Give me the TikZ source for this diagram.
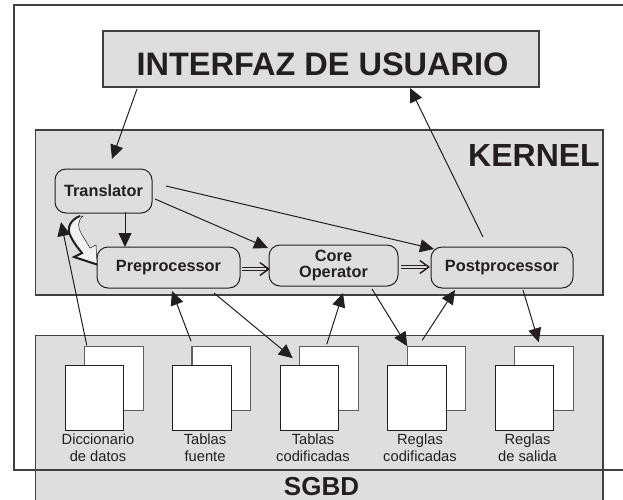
\documentclass[tikz,border=0pt]{standalone}
\usepackage{fontspec}
\setmainfont{Liberation Sans}
\usetikzlibrary{arrows.meta,calc}
\definecolor{panelgray}{HTML}{DEDEDE}
\definecolor{inkdark}{HTML}{231F20}
\definecolor{edgegray}{HTML}{404040}
\definecolor{backedge}{HTML}{5E5E5E}
\tikzset{
  x=1pt,y=-1pt,
  panel/.style={draw=edgegray,fill=panelgray,line width=1.2pt,inner sep=0pt,outer sep=0pt},
  procbox/.style={draw=inkdark,fill=panelgray,line width=1pt,rounded corners=11pt,inner sep=0pt,outer sep=0pt,
     font=\fontsize{16.3}{17}\selectfont\bfseries,align=center,text=inkdark},
  backdoc/.style={draw=backedge,fill=white,line width=1.2pt,minimum width=58.5pt,minimum height=64.5pt,inner sep=0pt,outer sep=0pt},
  frontdoc/.style={draw=inkdark,fill=white,line width=1pt,minimum width=58.5pt,minimum height=64.5pt,inner sep=0pt,outer sep=0pt},
  doclabel/.style={font=\fontsize{14.7}{17}\selectfont,align=center,text=inkdark,inner sep=0pt},
  bigtitle/.style={font=\bfseries,text=inkdark,inner sep=0pt},
  flow/.style={draw=inkdark,line width=1pt,-{Triangle[length=14pt,width=13pt]}},
  dshaft/.style={draw=inkdark,line width=1.2pt,double=panelgray,double distance=2.2pt},
  dhead/.style={draw=inkdark,line width=1.4pt,-{Straight Barb[length=9pt,width=13pt,line width=1.4pt]}},
}
\begin{document}
\begin{tikzpicture}
\useasboundingbox (0,0) rectangle (623,499);
\fill[white] (0,0) rectangle (623,499);
% panels
\node[panel,minimum width=436pt,minimum height=56pt] (ui) at (321,59) {};
\node[panel,minimum width=567.5pt,minimum height=165pt] (kernel) at (319.25,212.5) {};
\node[panel,minimum width=567.5pt,minimum height=170pt,anchor=north west] (sgbd) at (35.5,335.5) {};
\draw[edgegray,line width=1.2pt] (623,5) -- (14,5) -- (14,470) -- (623,470);
\clip (0,0) rectangle (623,499);
\node[bigtitle,font=\fontsize{32.5}{34}\selectfont\bfseries] (uititle) at (322.5,64) {INTERFAZ DE USUARIO};
\node[bigtitle,font=\fontsize{32}{33}\selectfont\bfseries] (ktitle) at (534,155.5) {KERNEL};
\node[bigtitle,font=\fontsize{26}{27}\selectfont\bfseries] (stitle) at (321.5,486.5) {SGBD};
% process boxes
\node[procbox,minimum width=97pt,minimum height=44pt] (trans) at (103.5,191) {Translator};
\node[procbox,minimum width=143pt,minimum height=41pt] (prep) at (168.5,267.5) {Preprocessor};
\node[procbox,minimum width=129pt,minimum height=41pt] (core) at (333.5,265.5) {Core\\[-1pt]Operator};
\node[procbox,minimum width=142pt,minimum height=41pt] (post) at (502,267.5) {Postprocessor};
% documents
\node[backdoc] (d1b) at (114,378.5) {};
\node[frontdoc] (d1f) at (94.5,398) {};
\node[backdoc] (d2b) at (221.3,378.5) {};
\node[frontdoc] (d2f) at (202,398) {};
\node[backdoc] (d3b) at (329,378.5) {};
\node[frontdoc] (d3f) at (309.5,398) {};
\node[backdoc] (d4b) at (436.5,378.5) {};
\node[frontdoc] (d4f) at (417,398) {};
\node[backdoc] (d5b) at (544,378.5) {};
\node[frontdoc] (d5f) at (524.5,398) {};
\node[doclabel] (l1) at (98,448) {Diccionario\\de datos};
\node[doclabel] (l2) at (205,448) {Tablas\\fuente};
\node[doclabel] (l3) at (313,448) {Tablas\\codificadas};
\node[doclabel] (l4) at (420,448) {Reglas\\codificadas};
\node[doclabel] (l5) at (527.5,448) {Reglas\\de salida};
% connectors
\draw[flow] ($(ui.south west)+(34,2)$) -- ($(trans.north west)+(57,-10)$);
\draw[flow] ($(post.north)+(-19,-10)$) -- ($(ui.south)+(89,1)$);
\draw[flow] ($(trans.south west)+(70,-1)$) -- ($(prep.north west)+(28,0)$);
\draw[flow] ($(trans.east)+(3,8)$) -- ($(core.north west)+(-1,3)$);
\draw[flow] ($(trans.east)+(14,-5)$) -- ($(post.north west)+(3,2)$);
\draw[flow] ($(d1b.north west)+(2,-1)$) -- ($(trans.south west)+(6,9)$);
\draw[flow] ($(d2b.north west)+(-1,-5)$) -- ($(prep.south west)+(75,3)$);
\draw[flow] ($(prep.south east)+(-26,5)$) -- ($(d3b.north west)+(-7,12)$);
\draw[flow] ($(d3b.north west)+(27,-2)$) -- ($(core.south)+(9.5,7)$);
\draw[flow] ($(core.south east)+(-26,3)$) -- (d4b.north west);
\draw[flow] ($(d4b.north west)+(15,-6)$) -- ($(post.south west)+(24,2)$);
\draw[flow] ($(post.south)+(21,2)$) -- ($(d5b.north west)+(24,-4)$);
% double arrows
\draw[dshaft] ($(prep.east)+(2,1.5)$) -- ($(core.west)+(-2,3.5)$);
\draw[dhead] ($(core.west)+(-3,3.5)$) -- ($(core.west)+(1,3.5)$);
\draw[dshaft] ($(core.east)+(3,1.5)$) -- ($(post.west)+(-3,-0.5)$);
\draw[dhead] ($(post.west)+(-4,-0.5)$) -- ($(post.west)+(-1,-0.5)$);
% hollow curved arrow from Translator to Preprocessor
\path[fill=panelgray!40!white,draw=inkdark,line width=0.5pt]
  (83,216) .. controls (77,221) and (78,228) .. (81,233)
  .. controls (83,237) and (86,241) .. (87,243) -- (90,248) -- (96,245) -- (97,264)
  -- (74,257) -- (82,253) .. controls (74,243) and (67,232) .. (69,226)
  .. controls (70,221) and (75,218) .. (80,216) -- cycle;
\draw[inkdark,line width=2pt,line join=miter]
  (80,216) .. controls (70,220) and (67,228) .. (70,235)
  .. controls (73,242) and (78,248) .. (82,253) -- (74,257) -- (97,264.5);
\end{tikzpicture}
\end{document}
